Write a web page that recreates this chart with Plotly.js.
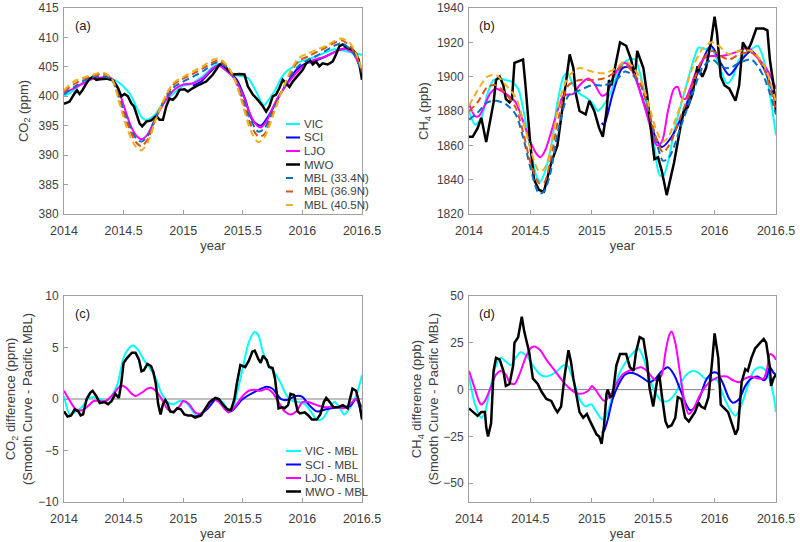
<!DOCTYPE html>
<html>
<head>
<meta charset="utf-8">
<script src="https://cdn.plot.ly/plotly-3.0.1.min.js"></script>
<style>html,body{margin:0;padding:0;background:#fff;}#chart{width:800px;height:542px;}</style>
</head>
<body>
<div id="chart"></div>
<script>
// ---------- tick labels ----------
const X_TICKS = [2014, 2014.5, 2015, 2015.5, 2016, 2016.5];
const X_TICK_TEXT = ['2014', '2014.5', '2015', '2015.5', '2016', '2016.5'];
const CO2_TICKS = [380, 385, 390, 395, 400, 405, 410, 415];
const CH4_TICKS = [1820, 1840, 1860, 1880, 1900, 1920, 1940];
const DCO2_TICKS = [-10, -5, 0, 5, 10];
const DCH4_TICKS = [-50, -25, 0, 25, 50];

// ---------- panel (a) CO2 ----------
const aNames = ['VIC', 'SCI', 'LJO', 'MWO', 'MBL (33.4N)', 'MBL (36.9N)', 'MBL (40.5N)'];
const aVicX = [2014.0,2014.08,2014.17,2014.25,2014.33,2014.4,2014.47,2014.51,2014.55,2014.6,2014.65,2014.68,2014.72,2014.77,2014.82,2014.88,2014.95,2015.0,2015.05,2015.1,2015.17,2015.25,2015.3,2015.35,2015.4,2015.47,2015.52,2015.55,2015.58,2015.62,2015.66,2015.68,2015.72,2015.77,2015.82,2015.87,2015.92,2015.97,2016.05,2016.12,2016.2,2016.27,2016.33,2016.4,2016.45,2016.5];
const aVicY = [400.0,401.0,402.5,403.0,403.2,403.0,402.2,401.4,400.5,398.5,396.5,396.0,396.2,397.0,398.5,399.8,401.0,401.8,402.0,402.5,403.5,405.0,405.5,404.5,403.8,403.5,403.3,403.0,402.0,400.5,398.8,398.5,399.5,401.0,403.0,404.3,405.0,405.8,406.3,406.8,407.5,408.0,407.8,407.5,407.3,407.0];
const aSciX = [2015.08,2015.15,2015.22,2015.3,2015.38,2015.45,2015.52,2015.58,2015.65,2015.72,2015.8,2015.88,2015.95,2016.02,2016.1,2016.2,2016.3,2016.38,2016.45,2016.5];
const aSciY = [401.8,402.5,404.0,405.3,404.2,402.8,399.5,396.0,395.0,396.8,399.8,402.5,404.5,405.5,406.0,406.8,407.8,408.2,407.0,404.0];
const aLjoX = [2014.0,2014.08,2014.17,2014.25,2014.33,2014.4,2014.45,2014.5,2014.55,2014.6,2014.65,2014.7,2014.75,2014.8,2014.87,2014.93,2015.0,2015.08,2015.17,2015.25,2015.3,2015.37,2015.43,2015.5,2015.55,2015.6,2015.65,2015.7,2015.75,2015.8,2015.87,2015.93,2016.0,2016.07,2016.15,2016.22,2016.3,2016.37,2016.43,2016.5];
const aLjoY = [400.7,401.3,402.3,403.0,403.2,403.0,401.5,398.5,395.5,393.5,392.7,393.5,395.5,397.5,399.8,401.2,402.0,402.2,403.2,404.8,405.2,404.2,403.0,400.3,397.5,395.5,394.7,395.8,398.0,400.0,402.0,403.5,405.0,406.0,406.5,407.0,407.8,408.0,407.2,404.0];
const aMwoX = [2014.0,2014.047,2014.089,2014.109,2014.131,2014.154,2014.182,2014.215,2014.243,2014.271,2014.299,2014.355,2014.411,2014.453,2014.48,2014.508,2014.536,2014.564,2014.587,2014.606,2014.634,2014.656,2014.69,2014.732,2014.774,2014.802,2014.83,2014.858,2014.885,2014.913,2014.941,2014.969,2015.011,2015.039,2015.081,2015.137,2015.193,2015.249,2015.304,2015.332,2015.374,2015.416,2015.472,2015.514,2015.542,2015.584,2015.626,2015.668,2015.696,2015.723,2015.751,2015.779,2015.807,2015.835,2015.863,2015.891,2015.919,2015.961,2016.003,2016.031,2016.059,2016.087,2016.115,2016.142,2016.17,2016.212,2016.254,2016.282,2016.31,2016.338,2016.38,2016.422,2016.45,2016.472,2016.5];
const aMwoY = [398.7,399.1,400.5,401.0,400.4,401.0,402.0,403.0,403.3,402.8,402.9,403.0,402.7,401.4,400.0,400.4,400.0,398.8,398.3,397.1,395.4,394.9,395.7,395.9,396.7,396.0,396.0,398.3,399.6,399.4,400.0,401.1,401.2,400.8,401.4,402.0,402.5,403.7,405.4,405.6,404.5,403.7,403.8,403.7,401.7,400.3,399.4,398.3,397.4,398.3,400.0,400.3,401.4,402.8,402.2,401.6,402.5,403.5,404.5,405.6,406.2,405.4,405.9,405.1,405.6,405.4,405.9,407.1,408.5,408.8,408.2,407.9,407.3,406.2,402.8];
const aMblX = [2014.0,2014.08,2014.17,2014.25,2014.33,2014.4,2014.47,2014.53,2014.6,2014.65,2014.71,2014.77,2014.85,2014.92,2015.0,2015.08,2015.17,2015.25,2015.3,2015.37,2015.43,2015.5,2015.57,2015.63,2015.68,2015.75,2015.83,2015.9,2015.97,2016.05,2016.13,2016.2,2016.27,2016.33,2016.4,2016.45,2016.5];
const aMbl33Y = [400.3,401.5,402.7,403.3,403.4,402.8,399.5,396.0,393.0,392.3,393.5,396.5,399.5,401.5,402.5,403.3,404.3,405.5,405.8,404.8,403.0,399.5,395.8,394.0,394.5,397.5,401.0,403.5,405.2,406.2,407.0,407.8,408.6,409.0,408.0,406.5,404.0];
const aMbl36Y = [400.8,402.0,403.0,403.5,403.8,403.0,399.0,395.5,392.3,391.5,393.0,396.3,399.8,402.0,403.0,403.8,404.8,405.8,406.1,405.0,403.0,399.0,395.0,393.2,393.5,397.0,401.0,404.0,406.0,406.8,407.6,408.3,409.1,409.5,408.5,407.0,404.3];
const aMbl40Y = [401.0,402.5,403.2,403.7,404.0,403.0,398.5,394.5,391.5,390.8,392.5,396.0,400.0,402.3,403.3,404.2,405.2,406.2,406.4,405.2,403.0,398.5,394.0,392.2,393.0,396.5,401.0,404.3,406.5,407.3,408.0,408.6,409.4,409.8,409.0,407.3,404.5];

// ---------- panel (b) CH4 ----------
const bVicX = [2014.0,2014.05,2014.1,2014.15,2014.2,2014.25,2014.3,2014.35,2014.4,2014.45,2014.5,2014.55,2014.58,2014.62,2014.67,2014.72,2014.77,2014.8,2014.85,2014.9,2014.95,2015.0,2015.05,2015.08,2015.15,2015.2,2015.25,2015.3,2015.35,2015.4,2015.45,2015.5,2015.55,2015.58,2015.62,2015.67,2015.72,2015.77,2015.83,2015.87,2015.92,2015.97,2016.02,2016.07,2016.1,2016.15,2016.2,2016.3,2016.35,2016.4,2016.45,2016.5];
const bVicY = [1880,1872,1876,1890,1898,1899,1898,1897,1893,1878,1858,1842,1839,1845,1860,1885,1900,1902,1895,1890,1888,1885,1880,1882,1890,1900,1907,1910,1910,1900,1882,1865,1843,1842,1850,1868,1882,1895,1910,1917,1916,1917,1910,1900,1896,1900,1910,1916,1918,1910,1890,1866];
const bSciX = [2015.08,2015.1,2015.17,2015.25,2015.32,2015.4,2015.5,2015.57,2015.65,2015.75,2015.85,2015.97,2016.05,2016.12,2016.2,2016.3,2016.4,2016.5];
const bSciY = [1873,1872,1890,1905,1905,1890,1868,1859,1865,1880,1900,1918,1908,1901,1908,1915,1905,1885];
const bLjoX = [2014.0,2014.05,2014.08,2014.12,2014.17,2014.22,2014.3,2014.38,2014.45,2014.5,2014.55,2014.58,2014.62,2014.67,2014.72,2014.77,2014.85,2014.9,2014.97,2015.02,2015.08,2015.12,2015.18,2015.25,2015.3,2015.35,2015.42,2015.48,2015.53,2015.57,2015.62,2015.67,2015.7,2015.73,2015.76,2015.8,2015.85,2015.92,2015.97,2016.05,2016.12,2016.2,2016.27,2016.35,2016.42,2016.47,2016.5];
const bLjoY = [1884,1877,1877,1882,1890,1893,1890,1885,1872,1862,1855,1853,1857,1868,1880,1889,1890,1895,1899,1896,1889,1890,1900,1908,1907,1900,1885,1870,1860,1862,1880,1893,1894,1888,1887,1893,1903,1911,1912,1912,1913,1915,1917,1911,1905,1898,1893];
const bMwoX = [2014.0,2014.03,2014.07,2014.1,2014.14,2014.2,2014.22,2014.25,2014.28,2014.3,2014.33,2014.35,2014.37,2014.44,2014.46,2014.5,2014.53,2014.57,2014.61,2014.67,2014.72,2014.76,2014.8,2014.82,2014.85,2014.87,2014.9,2014.95,2014.98,2015.02,2015.06,2015.09,2015.12,2015.14,2015.16,2015.2,2015.23,2015.28,2015.32,2015.35,2015.37,2015.42,2015.45,2015.48,2015.51,2015.54,2015.57,2015.61,2015.67,2015.72,2015.75,2015.78,2015.82,2015.86,2015.9,2015.93,2015.97,2016.0,2016.02,2016.05,2016.08,2016.12,2016.17,2016.2,2016.23,2016.27,2016.3,2016.34,2016.4,2016.43,2016.45,2016.48,2016.5];
const bMwoY = [1865,1865,1870,1876,1862,1885,1898,1900,1895,1887,1885,1887,1908,1910,1895,1860,1840,1834,1833,1850,1860,1880,1900,1913,1905,1890,1880,1878,1886,1880,1870,1865,1880,1898,1895,1910,1920,1918,1910,1900,1915,1905,1890,1870,1852,1853,1845,1831,1850,1870,1880,1882,1890,1906,1900,1905,1920,1935,1925,1900,1895,1893,1886,1895,1920,1915,1920,1928,1928,1927,1910,1895,1880];
const bMblX = [2014.0,2014.07,2014.15,2014.22,2014.3,2014.38,2014.45,2014.5,2014.57,2014.61,2014.66,2014.73,2014.81,2014.9,2015.0,2015.1,2015.2,2015.27,2015.33,2015.4,2015.47,2015.53,2015.58,2015.63,2015.72,2015.82,2015.9,2015.98,2016.05,2016.12,2016.2,2016.3,2016.4,2016.5];
const bMbl33Y = [1875,1879,1885,1886,1884,1878,1862,1847,1832,1833,1843,1870,1889,1892,1895,1895,1898,1903,1901,1895,1878,1861,1851,1853,1870,1890,1905,1910,1906,1905,1908,1910,1900,1878];
const bMbl36Y = [1880,1885,1894,1895,1890,1882,1865,1850,1838,1838,1850,1876,1895,1898,1898,1899,1903,1907,1903,1895,1878,1863,1856,1860,1876,1895,1910,1915,1912,1910,1913,1914,1905,1880];
const bMbl40Y = [1883,1892,1900,1901,1895,1888,1872,1858,1845,1846,1856,1884,1900,1905,1903,1902,1905,1909,1906,1898,1882,1868,1862,1866,1883,1905,1916,1920,1917,1913,1915,1915,1907,1885];

// ---------- panel (c) CO2 difference ----------
const cNames = ['VIC - MBL', 'SCI - MBL', 'LJO - MBL', 'MWO - MBL'];
const cZeroX = [2014, 2016.5];
const cZeroY = [0, 0];
const cVicX = [2014.0,2014.05,2014.1,2014.15,2014.2,2014.25,2014.3,2014.35,2014.4,2014.45,2014.5,2014.55,2014.58,2014.62,2014.67,2014.72,2014.77,2014.82,2014.87,2014.92,2014.97,2015.02,2015.07,2015.12,2015.17,2015.22,2015.28,2015.33,2015.38,2015.42,2015.45,2015.5,2015.55,2015.6,2015.63,2015.67,2015.72,2015.77,2015.82,2015.87,2015.92,2015.97,2016.02,2016.07,2016.12,2016.17,2016.22,2016.27,2016.32,2016.35,2016.4,2016.45,2016.5];
const cVicY = [0.3,-1.5,-1.2,-0.8,0.0,0.2,0.0,-0.2,0.3,1.5,4.0,5.0,5.2,4.8,3.8,3.0,2.0,0.5,-0.3,-0.5,-0.2,-0.3,-1.0,-1.7,-1.2,-0.5,0.1,-0.3,-1.0,-0.8,0.5,3.0,5.5,6.5,6.2,4.5,3.2,2.5,1.5,0.3,-0.2,-0.3,-0.5,-1.2,-2.0,-1.9,-1.0,-0.3,-1.0,-1.5,-0.8,0.3,2.3];
const cSciX = [2015.08,2015.1,2015.2,2015.28,2015.35,2015.4,2015.5,2015.6,2015.7,2015.75,2015.82,2015.87,2015.95,2016.0,2016.05,2016.12,2016.2,2016.3,2016.4,2016.45,2016.5];
const cSciY = [-1.6,-1.7,-1.0,0.0,-0.8,-1.2,0.0,0.7,1.2,1.0,0.0,-0.1,0.3,0.2,-0.5,-1.2,-1.0,-0.8,-0.7,0.0,-1.8];
const cLjoX = [2014.0,2014.05,2014.1,2014.15,2014.2,2014.25,2014.3,2014.35,2014.4,2014.45,2014.48,2014.52,2014.57,2014.6,2014.65,2014.7,2014.73,2014.77,2014.82,2014.87,2014.92,2014.97,2015.0,2015.05,2015.1,2015.15,2015.2,2015.25,2015.3,2015.35,2015.38,2015.43,2015.5,2015.55,2015.6,2015.65,2015.7,2015.75,2015.8,2015.85,2015.9,2015.95,2016.0,2016.05,2016.1,2016.15,2016.2,2016.25,2016.3,2016.35,2016.4,2016.45,2016.5];
const cLjoY = [0.8,-0.2,-1.0,-1.1,-0.7,-0.2,-0.2,-0.2,0.3,1.0,1.3,1.1,0.5,0.3,0.6,1.0,1.1,0.8,0.0,-1.0,-1.2,-0.7,-0.2,-0.5,-1.3,-1.4,-0.8,0.0,-0.3,-1.0,-1.3,-0.8,0.3,0.8,0.9,0.8,1.0,0.6,-0.3,-1.2,-1.5,-1.2,-0.3,-0.3,-0.5,-0.7,-0.8,-0.8,-0.8,-0.9,-0.5,0.0,-0.8];
const cMwoX = [2014.0,2014.03,2014.06,2014.09,2014.12,2014.14,2014.16,2014.19,2014.22,2014.24,2014.27,2014.3,2014.34,2014.37,2014.4,2014.43,2014.46,2014.48,2014.5,2014.53,2014.57,2014.6,2014.63,2014.65,2014.67,2014.7,2014.73,2014.75,2014.77,2014.79,2014.81,2014.83,2014.85,2014.87,2014.89,2014.92,2014.95,2014.98,2015.01,2015.04,2015.07,2015.1,2015.15,2015.18,2015.22,2015.27,2015.3,2015.33,2015.37,2015.4,2015.43,2015.45,2015.48,2015.52,2015.55,2015.58,2015.6,2015.63,2015.65,2015.67,2015.7,2015.72,2015.75,2015.77,2015.8,2015.83,2015.85,2015.88,2015.9,2015.93,2015.96,2015.98,2016.02,2016.05,2016.08,2016.12,2016.15,2016.18,2016.2,2016.23,2016.26,2016.3,2016.34,2016.38,2016.42,2016.45,2016.48,2016.5];
const cMwoY = [-1.2,-1.7,-1.6,-1.0,-1.2,-1.6,-1.5,0.0,0.6,0.8,0.3,-0.4,-0.3,-0.5,-0.2,0.5,0.1,1.5,3.5,4.0,4.5,4.5,3.8,2.7,2.8,3.4,3.2,2.6,1.5,-0.5,-1.5,-0.5,-0.1,-0.5,-1.2,-1.3,-0.9,-1.0,-1.5,-1.6,-1.6,-1.8,-1.6,-1.0,-0.3,0.1,0.0,-0.5,-1.0,-1.1,0.0,1.5,3.3,3.1,3.7,4.6,4.7,3.9,3.5,4.2,3.8,3.1,3.0,2.0,-0.9,-0.8,-0.9,-0.6,0.5,0.4,-1.2,-1.4,-1.3,-1.6,-2.0,-2.0,-1.5,-0.3,0.1,-0.3,-0.8,-0.8,-0.6,-0.9,1.0,0.8,-0.5,-2.0];

// ---------- panel (d) CH4 difference ----------
const dZeroX = [2014, 2016];
const dZeroY = [0, 0];
const dVicX = [2014.0,2014.05,2014.1,2014.13,2014.17,2014.22,2014.26,2014.3,2014.34,2014.38,2014.42,2014.47,2014.52,2014.58,2014.63,2014.7,2014.77,2014.8,2014.85,2014.9,2014.95,2014.98,2015.0,2015.02,2015.07,2015.1,2015.13,2015.17,2015.22,2015.28,2015.34,2015.38,2015.42,2015.47,2015.52,2015.57,2015.62,2015.67,2015.72,2015.77,2015.82,2015.87,2015.92,2015.97,2016.02,2016.07,2016.12,2016.17,2016.22,2016.27,2016.32,2016.37,2016.42,2016.45,2016.48,2016.5];
const dVicY = [7,-8,-15,-12,0,13,17,15,13,17,20,18,13,8,7,9,13,13,5,-5,-9,-8,-8,-10,-15,-16,-12,-3,8,15,20,22,17,6,-2,-6,-6,-3,3,8,10,9,6,6,5,-3,-10,-14,-8,2,10,12,10,5,-3,-12];
const dSciX = [2015.08,2015.1,2015.13,2015.17,2015.22,2015.27,2015.32,2015.37,2015.42,2015.47,2015.52,2015.57,2015.62,2015.67,2015.72,2015.77,2015.8,2015.83,2015.88,2015.93,2015.98,2016.02,2016.07,2016.12,2016.15,2016.2,2016.25,2016.3,2016.35,2016.4,2016.42,2016.45,2016.48,2016.5];
const dSciY = [-23,-22,-16,-5,3,8,9,8,6,4,6,10,12,8,0,-8,-11,-10,-4,5,9,9,3,-5,-7,-5,2,6,7,5,6,12,9,8];
const dLjoX = [2014.0,2014.04,2014.08,2014.1,2014.13,2014.17,2014.22,2014.26,2014.3,2014.33,2014.37,2014.41,2014.46,2014.5,2014.53,2014.58,2014.63,2014.7,2014.77,2014.83,2014.88,2014.93,2014.98,2015.0,2015.03,2015.07,2015.1,2015.15,2015.2,2015.25,2015.3,2015.35,2015.4,2015.45,2015.5,2015.53,2015.57,2015.6,2015.63,2015.65,2015.68,2015.72,2015.76,2015.79,2015.83,2015.88,2015.93,2015.98,2016.05,2016.1,2016.15,2016.2,2016.25,2016.3,2016.35,2016.4,2016.43,2016.45,2016.48,2016.5];
const dLjoY = [10,2,-6,-8,-6,0,8,10,8,4,3,8,17,22,23,21,16,10,4,0,-2,-2,0,2,0,-4,-6,-3,3,8,10,11,12,10,6,5,8,20,29,31,25,8,-8,-13,-10,-3,2,5,7,7,5,4,6,7,6,6,12,19,18,16];
const dMwoX = [2014.0,2014.05,2014.07,2014.1,2014.13,2014.14,2014.155,2014.18,2014.2,2014.22,2014.25,2014.28,2014.3,2014.33,2014.36,2014.37,2014.4,2014.43,2014.45,2014.49,2014.52,2014.56,2014.59,2014.63,2014.67,2014.7,2014.72,2014.75,2014.78,2014.81,2014.83,2014.85,2014.87,2014.9,2014.93,2014.96,2014.98,2015.01,2015.04,2015.06,2015.08,2015.1,2015.12,2015.13,2015.15,2015.17,2015.2,2015.23,2015.25,2015.28,2015.31,2015.34,2015.36,2015.39,2015.42,2015.45,2015.47,2015.5,2015.53,2015.55,2015.57,2015.6,2015.62,2015.65,2015.68,2015.7,2015.73,2015.76,2015.79,2015.81,2015.84,2015.87,2015.89,2015.92,2015.95,2015.98,2016.0,2016.03,2016.05,2016.08,2016.11,2016.14,2016.17,2016.19,2016.22,2016.25,2016.27,2016.3,2016.33,2016.37,2016.4,2016.42,2016.45,2016.46,2016.48,2016.5];
const dMwoY = [-10,-13,-14,-12,-12,-20,-25,-18,10,17,16,10,2,3,13,25,28,39,31,20,6,3,-1,-5,-6,-10,-12,-9,8,21,15,6,-1,-12,-15,-13,-16,-20,-24,-25,-29,-19,-2,0,-4,-3,13,19,19,19,12,10,20,28,27,15,1,-9,4,8,-3,-17,-20,-19,-15,-4,-5,-15,-17,-15,-12,-7,-9,-10,-4,15,30,17,-8,-10,-12,-18,-24,-21,4,11,10,17,22,25,27,25,12,2,6,8];

// ---------- styles ----------
const COL = {vic:'#00FFFF', sci:'#0000FF', ljo:'#FF00FF', mwo:'#000000', m33:'#0072BD', m36:'#D95319', m40:'#EDB120'};
const DASH = '7px,4px';
function solid(x, y, color, xa, ya, w, shape) {
  return {x:x, y:y, type:'scatter', mode:'lines', xaxis:xa, yaxis:ya, showlegend:false, hoverinfo:'skip',
          line:{color:color, width:w || 2, shape:shape || 'spline', smoothing:0.8}};
}
function dashed(x, y, color, xa, ya) {
  return {x:x, y:y, type:'scatter', mode:'lines', xaxis:xa, yaxis:ya, showlegend:false, hoverinfo:'skip',
          line:{color:color, width:2, dash:DASH, shape:'spline', smoothing:0.8}};
}
const traces = [
  solid(aVicX, aVicY, COL.vic, 'x', 'y'),
  solid(aSciX, aSciY, COL.sci, 'x', 'y'),
  solid(aLjoX, aLjoY, COL.ljo, 'x', 'y'),
  solid(aMwoX, aMwoY, COL.mwo, 'x', 'y', 2.5, 'linear'),
  dashed(aMblX, aMbl33Y, COL.m33, 'x', 'y'),
  dashed(aMblX, aMbl36Y, COL.m36, 'x', 'y'),
  dashed(aMblX, aMbl40Y, COL.m40, 'x', 'y'),

  solid(bVicX, bVicY, COL.vic, 'x2', 'y2'),
  solid(bSciX, bSciY, COL.sci, 'x2', 'y2'),
  solid(bLjoX, bLjoY, COL.ljo, 'x2', 'y2'),
  solid(bMwoX, bMwoY, COL.mwo, 'x2', 'y2', 2.5, 'linear'),
  dashed(bMblX, bMbl33Y, COL.m33, 'x2', 'y2'),
  dashed(bMblX, bMbl36Y, COL.m36, 'x2', 'y2'),
  dashed(bMblX, bMbl40Y, COL.m40, 'x2', 'y2'),

  solid(cZeroX, cZeroY, '#808080', 'x3', 'y3', 1, 'linear'),
  solid(cVicX, cVicY, COL.vic, 'x3', 'y3'),
  solid(cSciX, cSciY, COL.sci, 'x3', 'y3'),
  solid(cLjoX, cLjoY, COL.ljo, 'x3', 'y3'),
  solid(cMwoX, cMwoY, COL.mwo, 'x3', 'y3', 2.5, 'linear'),

  solid(dZeroX, dZeroY, '#808080', 'x4', 'y4', 1, 'linear'),
  solid(dVicX, dVicY, COL.vic, 'x4', 'y4'),
  solid(dSciX, dSciY, COL.sci, 'x4', 'y4'),
  solid(dLjoX, dLjoY, COL.ljo, 'x4', 'y4'),
  solid(dMwoX, dMwoY, COL.mwo, 'x4', 'y4', 2.5, 'linear')
];

// ---------- layout ----------
const W = 800, H = 542;
const AX_COL = '#a0a0a0';
const TXT = '#404040';
const FONT = 'Liberation Sans, Arial, Helvetica, sans-serif';
const LEFT_DOM = [64 / W, 362 / W];
const RIGHT_DOM = [469 / W, 776 / W];
const TOP_DOM = [1 - 214 / H, 1 - 8 / H];
const BOT_DOM = [1 - 502 / H, 1 - 296 / H];

function xAxis(domain, anchor) {
  return {domain:domain, anchor:anchor, range:[2014, 2016.5], tickvals:X_TICKS, ticktext:X_TICK_TEXT,
          showline:true, mirror:true, linecolor:AX_COL, linewidth:1, ticks:'inside', ticklen:4, tickcolor:AX_COL,
          showgrid:false, zeroline:false, tickfont:{size:12.5, color:TXT}, ticklabelstandoff:5,
          title:{text:'year', font:{size:13, color:TXT}, standoff:3}};
}
function yAxis(domain, anchor, range, ticks, title, standoff) {
  return {domain:domain, anchor:anchor, range:range, tickvals:ticks,
          showline:true, mirror:true, linecolor:AX_COL, linewidth:1, ticks:'inside', ticklen:4, tickcolor:AX_COL,
          showgrid:false, zeroline:false, tickfont:{size:12, color:TXT}, ticklabelstandoff:2,
          title:{text:title, font:{size:13, color:TXT}, standoff:standoff}};
}

// custom compact legends (spacing like the original)
const legA = {x0:286, x1:300, tx:302, ys:[124, 137.5, 151, 164.5, 178, 191.5, 205]};
const legC = {x0:286, x1:301, tx:303, ys:[451, 464.5, 478, 491.5]};
const legAStyle = [COL.vic, COL.sci, COL.ljo, COL.mwo, COL.m33, COL.m36, COL.m40];
const legADash = [false, false, false, false, true, true, true];
const legCStyle = [COL.vic, COL.sci, COL.ljo, COL.mwo];
const LEG_FONT = 11.5;

const shapes = [];
const annotations = [];
aNames.forEach(function(n, i) {
  const yy = 1 - legA.ys[i] / H;
  shapes.push({type:'line', xref:'paper', yref:'paper', x0:legA.x0 / W, x1:(legADash[i] ? legA.x0 + 7 : legA.x1) / W,
               y0:yy, y1:yy, line:{color:legAStyle[i], width:i === 3 ? 2.5 : 2}});
  annotations.push({xref:'paper', yref:'paper', x:legA.tx / W, y:yy, xanchor:'left', yanchor:'middle',
                    text:n, showarrow:false, font:{size:LEG_FONT, color:TXT}});
});
cNames.forEach(function(n, i) {
  const yy = 1 - legC.ys[i] / H;
  shapes.push({type:'line', xref:'paper', yref:'paper', x0:legC.x0 / W, x1:legC.x1 / W,
               y0:yy, y1:yy, line:{color:legCStyle[i], width:i === 3 ? 2.5 : 2}});
  annotations.push({xref:'paper', yref:'paper', x:legC.tx / W, y:yy, xanchor:'left', yanchor:'middle',
                    text:n, showarrow:false, font:{size:LEG_FONT, color:TXT}});
});
// panel labels
[['(a)', 'x domain', 'y domain', 0.03, 0.917], ['(b)', 'x2 domain', 'y2 domain', 0.026, 0.917],
 ['(c)', 'x3 domain', 'y3 domain', 0.03, 0.913], ['(d)', 'x4 domain', 'y4 domain', 0.026, 0.913]].forEach(function(p) {
  annotations.push({xref:p[1], yref:p[2], x:p[3], y:p[4], xanchor:'left', yanchor:'middle', text:p[0],
                    showarrow:false, font:{size:13, color:'#222222'}});
});

const layout = {
  width:W, height:H, margin:{l:0, r:0, t:0, b:0}, showlegend:false,
  paper_bgcolor:'#ffffff', plot_bgcolor:'#ffffff',
  font:{family:FONT, size:12, color:TXT},
  xaxis: xAxis(LEFT_DOM, 'y'),
  yaxis: yAxis(TOP_DOM, 'x', [380, 415], CO2_TICKS, 'CO<sub>2</sub> (ppm)', 7),
  xaxis2: xAxis(RIGHT_DOM, 'y2'),
  yaxis2: yAxis(TOP_DOM, 'x2', [1820, 1940], CH4_TICKS, 'CH<sub>4</sub> (ppb)', 5),
  xaxis3: xAxis(LEFT_DOM, 'y3'),
  yaxis3: yAxis(BOT_DOM, 'x3', [-10, 10], DCO2_TICKS, 'CO<sub>2</sub> difference (ppm)<br>(Smooth Curve - Pacific MBL)', 2),
  xaxis4: xAxis(RIGHT_DOM, 'y4'),
  yaxis4: yAxis(BOT_DOM, 'x4', [-60, 50], DCH4_TICKS, 'CH<sub>4</sub> difference (ppb)<br>(Smooth Curve - Pacific MBL)', 1),
  shapes:shapes, annotations:annotations
};

Plotly.newPlot('chart', traces, layout, {staticPlot:true, displayModeBar:false});
</script>
</body>
</html>
